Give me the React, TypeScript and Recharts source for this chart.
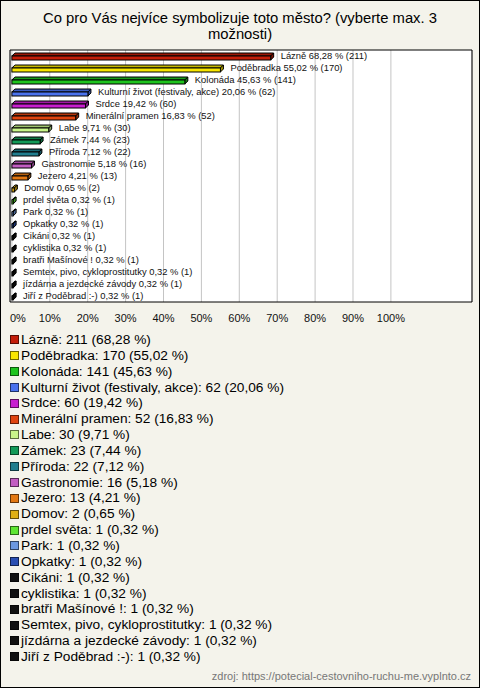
import React from "react";
import {
  BarChart,
  Bar,
  XAxis,
  YAxis,
  CartesianGrid,
  ReferenceArea,
  Cell,
  LabelList,
} from "recharts";

const TITLE_LINES = [
  "Co pro Vás nejvíce symbolizuje toto město? (vyberte max. 3",
  "možnosti)",
];
const SOURCE = "zdroj: https://potecial-cestovniho-ruchu-me.vyplnto.cz";

const categories = [
  "Lázně",
  "Poděbradka",
  "Kolonáda",
  "Kulturní život (festivaly, akce)",
  "Srdce",
  "Minerální pramen",
  "Labe",
  "Zámek",
  "Příroda",
  "Gastronomie",
  "Jezero",
  "Domov",
  "prdel světa",
  "Park",
  "Opkatky",
  "Cikáni",
  "cyklistika",
  "bratři Mašínové !",
  "Semtex, pivo, cykloprostitutky",
  "jízdárna a jezdecké závody",
  "Jiří z Poděbrad :-)",
];
const counts = [211, 170, 141, 62, 60, 52, 30, 23, 22, 16, 13, 2, 1, 1, 1, 1, 1, 1, 1, 1, 1];
const percents = [
  68.28, 55.02, 45.63, 20.06, 19.42, 16.83, 9.71, 7.44, 7.12, 5.18, 4.21, 0.65, 0.32, 0.32,
  0.32, 0.32, 0.32, 0.32, 0.32, 0.32, 0.32,
];
const colors = [
  "#c41e0a",
  "#f8e600",
  "#1ec41e",
  "#4a72ee",
  "#c81ecf",
  "#e0440f",
  "#c8f58a",
  "#129a58",
  "#1f7d8e",
  "#c25dc2",
  "#e37812",
  "#e0b012",
  "#5ee632",
  "#6c98e0",
  "#2a4fb2",
  "#111111",
  "#111111",
  "#111111",
  "#111111",
  "#111111",
  "#111111",
];
const xTicks = [0, 10, 20, 30, 40, 50, 60, 70, 80, 90, 100];

const fmt = (v: number) => v.toFixed(2).replace(".", ",");

const data = categories.map((name, i) => ({
  name,
  pct: percents[i],
  label: `${name} ${fmt(percents[i])} % (${counts[i]})`,
}));

const DEPTH = 3;

const Bar3D = (props: any) => {
  const { x, y, width, height, fill } = props;
  const w = Math.max(width, 1);
  const fy = y + DEPTH;
  const fh = height - DEPTH;
  const top = `M${x},${fy} L${x + DEPTH},${y} L${x + w + DEPTH},${y} L${x + w},${fy} Z`;
  const side = `M${x + w},${fy} L${x + w + DEPTH},${y} L${x + w + DEPTH},${y + fh} L${x + w},${fy + fh} Z`;
  return (
    <g>
      <path d={top} fill={fill} stroke="#000" strokeWidth={1} />
      <path d={top} fill="#000" fillOpacity={0.2} />
      <path d={side} fill={fill} stroke="#000" strokeWidth={1} />
      <path d={side} fill="#000" fillOpacity={0.35} />
      <rect x={x} y={fy} width={w} height={fh} fill={fill} stroke="#000" strokeWidth={1} />
    </g>
  );
};

const BarLabel = (props: any) => {
  const { x, y, width, height, value } = props;
  return (
    <text
      x={x + Math.max(width, 1) + DEPTH + 7}
      y={y + height / 2 - 1}
      fontSize={9.4}
      fontFamily="'Liberation Sans', Arial, sans-serif"
      fill="#111"
      dominantBaseline="central"
    >
      {value}
    </text>
  );
};

const XTick = (props: any) => {
  const { x, y, payload } = props;
  const shift = payload.value === 0 ? 6 : 0;
  return (
    <text
      x={x + shift}
      y={y}
      dy="0.71em"
      textAnchor="middle"
      fontSize={11}
      fontFamily="'Liberation Sans', Arial, sans-serif"
      fill="#111"
    >
      {`${payload.value}%`}
    </text>
  );
};

export default function App() {
  return (
    <div
      style={{
        position: "absolute",
        left: 0,
        top: 0,
        width: 480,
        height: 688,
        boxSizing: "border-box",
        border: "1px solid #000",
        background: "#f4f3eb",
        fontFamily: "'Liberation Sans', Arial, sans-serif",
        overflow: "hidden",
      }}
    >
      <div
        style={{
          position: "absolute",
          top: 9,
          left: 0,
          width: 478,
          textAlign: "center",
          fontSize: 14.8,
          lineHeight: "16px",
          color: "#000",
        }}
      >
        {TITLE_LINES.map((t) => (
          <div key={t}>{t}</div>
        ))}
      </div>
      <div style={{ position: "absolute", left: -1, top: -1 }}>
        <BarChart
          width={480}
          height={330}
          data={data}
          layout="vertical"
          margin={{ top: 50, right: 8, bottom: 8, left: 10 }}
          barSize={7}
        >
          <CartesianGrid
            horizontal={false}
            stroke="#c4c4c4"
            fill="#ffffff"
            fillOpacity={1}
          />
          <XAxis
            type="number"
            dataKey="pct"
            domain={[-0.5, 121.4]}
            ticks={xTicks}
            axisLine={false}
            tickLine={false}
            tickMargin={6}
            height={20}
            tick={<XTick />}
            interval={0}
          />
          <YAxis type="category" dataKey="name" hide />
          <ReferenceArea
            x1={-0.5}
            x2={121.4}
            fill="none"
            stroke="#000"
            strokeWidth={1}
            fillOpacity={0}
          />
          <Bar dataKey="pct" shape={<Bar3D />} isAnimationActive={false}>
            {data.map((d, i) => (
              <Cell key={d.name} fill={colors[i]} />
            ))}
            <LabelList dataKey="label" content={<BarLabel />} />
          </Bar>
        </BarChart>
      </div>
      <div style={{ position: "absolute", top: 331, left: 9, fontSize: 13.7, lineHeight: "15.85px", color: "#000" }}>
        {categories.map((name, i) => (
          <div key={name} style={{ display: "flex", alignItems: "center", whiteSpace: "nowrap" }}>
            <span
              style={{
                display: "inline-block",
                width: 9,
                height: 9,
                boxSizing: "border-box",
                background: colors[i],
                border: "1px solid rgba(0,0,0,0.55)",
                marginRight: 2,
              }}
            />
            <span>{`${name}: ${counts[i]} (${fmt(percents[i])} %)`}</span>
          </div>
        ))}
      </div>
      <div
        style={{
          position: "absolute",
          right: 8,
          top: 669,
          fontSize: 11,
          color: "#777",
        }}
      >
        {SOURCE}
      </div>
    </div>
  );
}
